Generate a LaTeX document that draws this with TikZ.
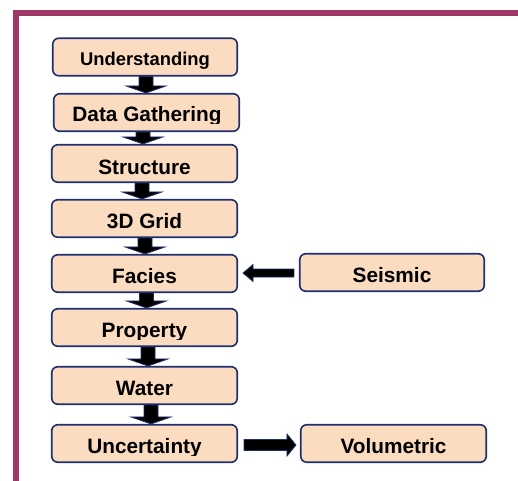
\documentclass[tikz,border=0pt]{standalone}
\usepackage{fontspec}
\setmainfont{Liberation Sans}
\usetikzlibrary{calc}
\definecolor{framecol}{HTML}{9E3668}
\definecolor{peach}{HTML}{FBDCC0}
\definecolor{navy}{HTML}{1F2F6E}
\tikzset{
  box/.style={draw=navy, fill=peach, line width=1.6pt, rounded corners=6pt, inner sep=0pt, minimum height=37.5pt},
  lbl/.style={anchor=base, inner sep=0pt, font=\bfseries\fontsize{20.8}{24}\selectfont},
  blockarrow/.style={fill=black, draw=navy, line width=0.8pt, line join=miter},
}
% vertical block arrow: from node #1 (south) to node #2 (north) at x=#3
\newcommand\varrow[3]{%
  \filldraw[blockarrow] let \p1=(#1.south), \p2=(#2.north), \p3=(#3,0) in
    (\x3-7pt,\y1) -- (\x3+7pt,\y1) -- (\x3+7pt,\y2+7pt) -- (\x3+20pt,\y2+7pt)
    -- (\x3,\y2) -- (\x3-20pt,\y2+7pt) -- (\x3-7pt,\y2+7pt) -- cycle;}
\begin{document}
\begin{tikzpicture}[x=1pt,y=-1pt]
\useasboundingbox (0,0) rectangle (518,480);
\clip (0,0) rectangle (518,480);
\draw[framecol, line width=6pt] (15.5,13) rectangle (540,500);

% boxes
\node[box, minimum width=184.5pt] (u)   at (145,57)      {};
\node[box, minimum width=185.5pt] (dg)  at (146.5,112.5) {};
\node[box, minimum width=185.5pt] (s)   at (144.5,163.5) {};
\node[box, minimum width=185.5pt] (g)   at (144.5,218.5) {};
\node[box, minimum width=185.5pt] (f)   at (144.5,273.5) {};
\node[box, minimum width=185.5pt] (p)   at (144.5,327.5) {};
\node[box, minimum width=185.5pt] (w)   at (144.5,385.5) {};
\node[box, minimum width=185.5pt] (unc) at (144.5,443.5) {};
\node[box, minimum width=184.5pt] (seis) at (392,272.5)  {};
\node[box, minimum width=185.5pt] (vol)  at (393.5,443.5) {};

% labels
\node[lbl, font=\bfseries\fontsize{18.4}{22}\selectfont] (tu) at (145,65) {Understanding};
\begin{scope}
  \clip (0,93) rectangle (518,123);
  \node[lbl] (tdg) at (147,121) {Data Gathering};
\end{scope}
\node[lbl] (ts) at (144.5,174) {Structure};
\node[lbl] (tg) at (144.5,228) {3D Grid};
\node[lbl] (tf) at (144.5,283) {Facies};
\begin{scope}
  \clip (0,308) rectangle (518,339);
  \node[lbl] (tp) at (144.5,337) {Property};
\end{scope}
\node[lbl] (tw) at (144.5,395) {Water};
\begin{scope}
  \clip (0,424) rectangle (518,455);
  \node[lbl] (tunc) at (144.5,453) {Uncertainty};
\end{scope}
\node[lbl] (tseis) at (392,282) {Seismic};
\node[lbl] (tvol) at (393.5,453) {Volumetric};

% vertical arrows
\varrow{u}{dg}{146}
\varrow{dg}{s}{143}
\varrow{s}{g}{142}
\varrow{g}{f}{145}
\varrow{f}{p}{146.5}
\varrow{p}{w}{148}
\varrow{w}{unc}{151}

% Seismic -> Facies
\filldraw[blockarrow] let \p1=(seis.west), \p2=(f.east) in
  (\x1-5pt,\y2-3.5pt) -- (\x2+15pt,\y2-3.5pt) -- (\x2+15pt,\y2-8pt) -- (\x2+5pt,\y2+0.5pt)
  -- (\x2+15pt,\y2+9pt) -- (\x2+15pt,\y2+4.5pt) -- (\x1-5pt,\y2+4.5pt) -- cycle;
% Uncertainty -> Volumetric
\filldraw[blockarrow] let \p1=(unc.east), \p2=(vol.west) in
  (\x1+6pt,\y1-7pt) -- (\x2-13pt,\y1-7pt) -- (\x2-13pt,\y1-12.5pt) -- (\x2-4pt,\y1-1.5pt)
  -- (\x2-13pt,\y1+9.5pt) -- (\x2-13pt,\y1+4pt) -- (\x1+6pt,\y1+4pt) -- cycle;
\end{tikzpicture}
\end{document}
